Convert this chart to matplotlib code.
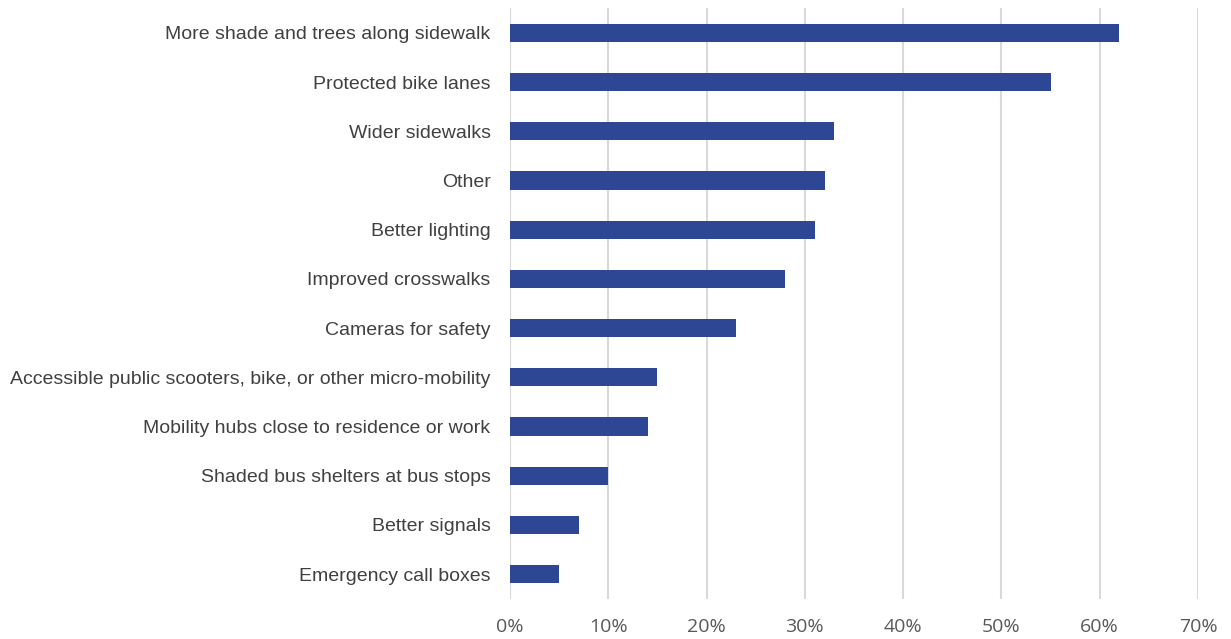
import matplotlib
matplotlib.use("Agg")
import matplotlib.pyplot as plt
from matplotlib.ticker import PercentFormatter

categories = [
    "More shade and trees along sidewalk",
    "Protected bike lanes",
    "Wider sidewalks",
    "Other",
    "Better lighting",
    "Improved crosswalks",
    "Cameras for safety",
    "Accessible public scooters, bike, or other micro-mobility",
    "Mobility hubs close to residence or work",
    "Shaded bus shelters at bus stops",
    "Better signals",
    "Emergency call boxes",
]
values = [62, 55, 33, 32, 31, 28, 23, 15, 14, 10, 7, 5]
xticks = [0, 10, 20, 30, 40, 50, 60, 70]

fig = plt.figure(figsize=(12.31, 6.39), dpi=100)
ax = fig.add_axes([0.4143, 0.063, 0.9732 - 0.4143, 0.987 - 0.063])

pos = list(range(len(categories)))
ax.barh(pos, values, height=0.37, color="#2E4795", zorder=3)
ax.set_ylim(len(categories) - 0.5, -0.5)
ax.set_xlim(0, 70)
ax.set_xticks(xticks)
ax.xaxis.set_major_formatter(PercentFormatter(decimals=0))
ax.grid(axis="x", color="#D9D9D9", linewidth=1.5, zorder=0)
for s in ax.spines.values():
    s.set_visible(False)
ax.tick_params(length=0)
ax.tick_params(axis="x", pad=14, labelsize=14, labelcolor="#595959")
ax.set_yticks(pos)
ax.set_yticklabels(categories, fontsize=14, color="#404040",
                   family=["Liberation Sans", "DejaVu Sans"])
ax.tick_params(axis="y", pad=14)
for lbl in ax.get_xticklabels():
    lbl.set_family(["Open Sans", "DejaVu Sans"])

fig.savefig("out.png", dpi=100)
